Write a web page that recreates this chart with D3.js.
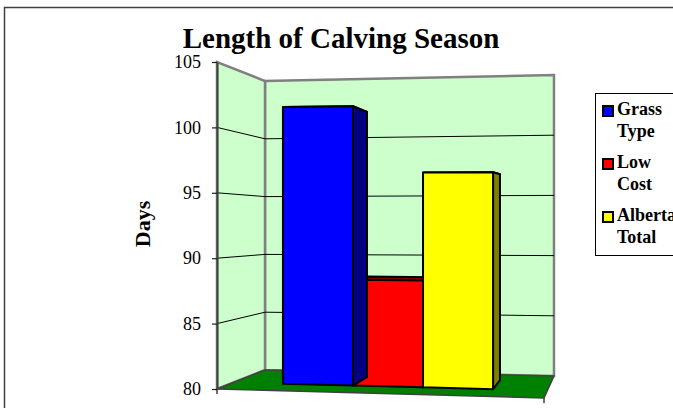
<!DOCTYPE html>
<html>
<head>
<meta charset="utf-8">
<script src="https://cdn.jsdelivr.net/npm/d3@7"></script>
<style>
  body { margin: 0; background: #fff; }
  svg { display: block; }
</style>
</head>
<body>
<svg id="chart" width="673" height="408"></svg>
<script>
// data
var series = ["Grass Type", "Low Cost", "Alberta Total"]
var values = [101.9, 88.3, 96.7]
var yTicks = [80, 85, 90, 95, 100, 105]
var title = "Length of Calving Season"
var yTitle = "Days"

var faceColors = ["#0000ff", "#ff0000", "#ffff00"]
var darkColors = ["#000080", "#800000", "#808000"]

var svg = d3.select("#chart")
var font = "'Liberation Serif', 'Times New Roman', serif"

// the four vertical edges of the 3d box, each with its own value scale
var FL = {x: 217, y: d3.scaleLinear().domain([80, 105]).range([389, 62])}
var FR = {x: 544, y: d3.scaleLinear().domain([80, 105]).range([398, 58])}
var BL = {x: 265, y: d3.scaleLinear().domain([80, 105]).range([370, 81])}
var BR = {x: 554, y: d3.scaleLinear().domain([80, 105]).range([376, 75])}

// u: along category axis (0..1), d: depth front->back (0..1), v: value
function proj(u, d, v) {
  var fx = FL.x + (FR.x - FL.x) * u, fy = FL.y(v) + (FR.y(v) - FL.y(v)) * u
  var bx = BL.x + (BR.x - BL.x) * u, by = BL.y(v) + (BR.y(v) - BL.y(v)) * u
  return [fx + (bx - fx) * d, fy + (by - fy) * d]
}
function poly(pts) { return "M" + pts.map(function(p) { return p.join(",") }).join("L") + "Z" }

var uScale = d3.scaleBand().domain(series).range([0.158, 0.827]).paddingInner(0)
var dFront = 0.34, dBack = 0.757
var vMin = 80, vMax = 105

// outer frame
svg.append("rect")
  .attr("x", 4.5).attr("y", 7.5).attr("width", 700).attr("height", 430)
  .attr("fill", "#fff").attr("stroke", "#404040").attr("stroke-width", 1.5)

// title
svg.append("text")
  .attr("x", 341).attr("y", 48)
  .attr("text-anchor", "middle")
  .attr("font-family", font).attr("font-weight", "bold").attr("font-size", 29)
  .text(title)

// walls
var g = svg.append("g")
g.append("path")
  .attr("d", poly([proj(0,1,vMin), proj(1,1,vMin), proj(1,1,vMax), proj(0,1,vMax)]))
  .attr("fill", "#ccffcc").attr("stroke", "#808080").attr("stroke-width", 2.5)
g.append("path")
  .attr("d", poly([proj(0,0,vMin), proj(0,1,vMin), proj(0,1,vMax), proj(0,0,vMax)]))
  .attr("fill", "#ccffcc").attr("stroke", "#808080").attr("stroke-width", 2.5)
g.append("path")
  .attr("d", poly([proj(0,0,vMin), proj(1,0,vMin), proj(1,1,vMin), proj(0,1,vMin)]))
  .attr("fill", "#008000").attr("stroke", "#404040").attr("stroke-width", 1.5)

// gridlines on left and back walls
yTicks.slice(1, -1).forEach(function(t) {
  g.append("path")
    .attr("d", "M" + proj(0,0,t) + "L" + proj(0,1,t) + "L" + proj(1,1,t))
    .attr("fill", "none").attr("stroke", "#000").attr("stroke-width", 1)
})

// category axis ticks under floor
;[0, 1].forEach(function(u) {
  var p = proj(u, 0, vMin)
  g.append("line")
    .attr("x1", p[0]).attr("y1", p[1]).attr("x2", p[0]).attr("y2", p[1] + 5)
    .attr("stroke", "#404040").attr("stroke-width", 1.5)
})

// value axis on front-left edge
var yAxis = svg.append("g")
  .attr("transform", "translate(" + FL.x + ",0)")
  .call(d3.axisLeft(FL.y).tickValues(yTicks).tickSize(5).tickSizeOuter(0).tickPadding(11))
yAxis.select(".domain").attr("stroke", "#404040").attr("stroke-width", 2)
yAxis.selectAll(".tick line").attr("stroke", "#202020").attr("stroke-width", 1.2)
yAxis.selectAll(".tick text")
  .attr("font-family", font).attr("font-size", 18).attr("fill", "#000")

// bars: red first, then blue, then yellow (so blue side shows over red)
var order = [1, 0, 2]
order.forEach(function(i) {
  var u0 = uScale(series[i]), u1 = u0 + uScale.bandwidth(), v = values[i]
  var bar = svg.append("g").attr("stroke", "#000").attr("stroke-width", 2).attr("stroke-linejoin", "round")
  bar.append("path")
    .attr("d", poly([proj(u0,dFront,v), proj(u1,dFront,v), proj(u1,dBack,v), proj(u0,dBack,v)]))
    .attr("fill", darkColors[i])
  bar.append("path")
    .attr("d", poly([proj(u1,dFront,vMin), proj(u1,dBack,vMin), proj(u1,dBack,v), proj(u1,dFront,v)]))
    .attr("fill", darkColors[i])
  bar.append("path")
    .attr("d", poly([proj(u0,dFront,vMin), proj(u1,dFront,vMin), proj(u1,dFront,v), proj(u0,dFront,v)]))
    .attr("fill", faceColors[i])
})

// y title
svg.append("text")
  .attr("transform", "translate(150,224)rotate(-90)")
  .attr("text-anchor", "middle")
  .attr("font-family", font).attr("font-weight", "bold").attr("font-size", 22)
  .text(yTitle)

// legend
var legend = svg.append("g").attr("transform", "translate(595,93)")
legend.append("rect")
  .attr("x", 0.5).attr("y", 0.5).attr("width", 110).attr("height", 162)
  .attr("fill", "#fff").attr("stroke", "#000").attr("stroke-width", 1)
series.forEach(function(s, i) {
  var item = legend.append("g").attr("transform", "translate(0," + (i * 53) + ")")
  item.append("rect")
    .attr("x", 8).attr("y", 13).attr("width", 10).attr("height", 10)
    .attr("fill", faceColors[i]).attr("stroke", "#000").attr("stroke-width", 2)
  var words = s.split(" ")
  words.forEach(function(w, j) {
    item.append("text")
      .attr("x", 22).attr("y", 22 + j * 22)
      .attr("font-family", font).attr("font-weight", "bold").attr("font-size", 18)
      .text(w)
  })
})
</script>
</body>
</html>
